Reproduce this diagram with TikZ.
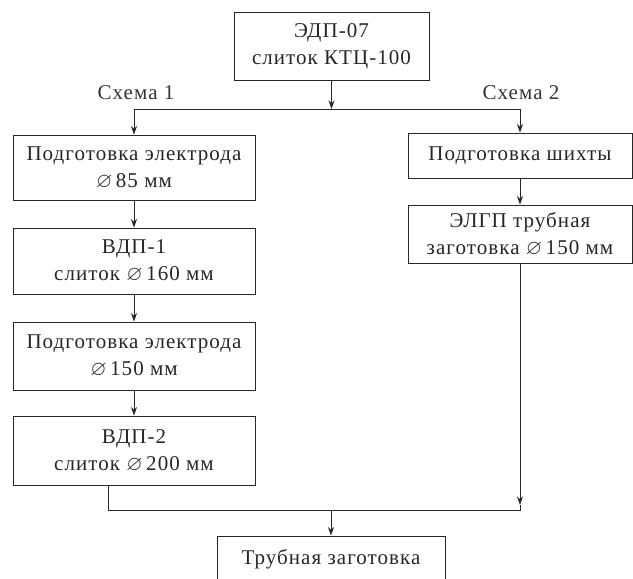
\documentclass[tikz,border=0pt]{standalone}
\usepackage{amssymb}
\usepackage{fontspec}
\setmainfont{Liberation Serif}[LetterSpace=5]
\usetikzlibrary{arrows.meta}
\tikzset{
  box/.style={draw=black!85, line width=0.9pt, inner sep=0pt, align=center,
    font=\fontsize{21}{27}\selectfont, text=black!85},
  lbl/.style={inner sep=0pt, font=\fontsize{21}{27}\selectfont, text=black!80},
  conn/.style={draw=black!85, line width=0.9pt},
  arr/.style={conn, -{Stealth[length=8.5pt,width=6pt]}}
}
\begin{document}
\begin{tikzpicture}[x=1pt,y=-1pt]
\useasboundingbox (0,0) rectangle (633,579);
\node[box, minimum width=195pt, minimum height=68pt] (T) at (331.5,46) {ЭДП-07\\слиток КТЦ-100};
\node[box, minimum width=242pt, minimum height=65pt] (L1) at (134,167.5) {Подготовка электрода\\$\varnothing$\,85 мм};
\node[box, minimum width=242pt, minimum height=66pt] (L2) at (134,261) {ВДП-1\\слиток $\varnothing$\,160 мм};
\node[box, minimum width=242pt, minimum height=68pt] (L3) at (134,356) {Подготовка электрода\\$\varnothing$\,150 мм};
\node[box, minimum width=242pt, minimum height=69pt] (L4) at (134,450.5) {ВДП-2\\слиток $\varnothing$\,200 мм};
\node[box, minimum width=224pt, minimum height=45pt] (R1) at (520,155.5) {Подготовка шихты};
\node[box, minimum width=224pt, minimum height=58pt] (R2) at (520,234) {ЭЛГП трубная\\заготовка $\varnothing$\,150 мм};
\node[box, minimum width=228pt, minimum height=46pt] (B) at (331,559) {Трубная заготовка};
\node[lbl] (S1) at (136,93) {Схема 1};
\node[lbl] (S2) at (521,93) {Схема 2};
\coordinate (J) at (331.5,109);
\coordinate (M) at (331,510);
\coordinate (L4out) at (108,485);
\coordinate (R2tip) at (520,505);
\draw[arr] (T.south) -- (J);
\draw[conn] (L1.north |- J) -- (R1.north |- J);
\draw[arr] (L1.north |- J) -- (L1.north);
\draw[arr] (R1.north |- J) -- (R1.north);
\draw[arr] (L1) -- (L2);
\draw[arr] (L2) -- (L3);
\draw[arr] (L3) -- (L4);
\draw[arr] (R1) -- (R2);
\draw[arr] (R2.south) -- (R2tip);
\draw[conn] (R2tip) -- (R2.south |- M) -- (L4out |- M) -- (L4out);
\draw[arr] (M) -- (B.north);
\end{tikzpicture}
\end{document}
